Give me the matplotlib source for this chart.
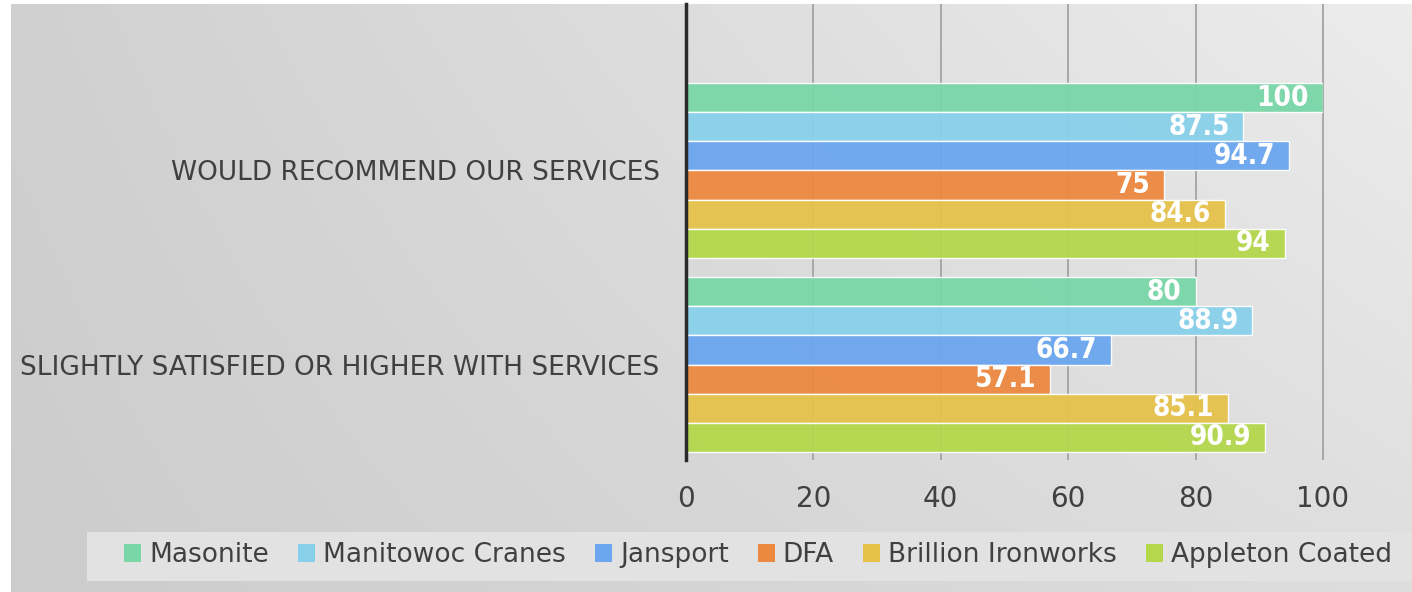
import matplotlib.pyplot as plt
import numpy as np
from matplotlib.patches import Rectangle, Patch

CATEGORIES = ["SLIGHTLY SATISFIED OR HIGHER WITH SERVICES", "WOULD RECOMMEND OUR SERVICES"]
COMPANIES = ["Masonite", "Manitowoc Cranes", "Jansport", "DFA", "Brillion Ironworks", "Appleton Coated"]

# values per company: [slightly satisfied, would recommend]
masonite = [80, 100]
manitowoc = [88.9, 87.5]
jansport = [66.7, 94.7]
dfa = [57.1, 75]
brillion = [85.1, 84.6]
appleton = [90.9, 94]
SERIES = [masonite, manitowoc, jansport, dfa, brillion, appleton]

COLORS = ["#79d7a7", "#88d0ea", "#6ba6ef", "#ec8940", "#e6c24b", "#b4d74b"]
X_TICKS = [0, 20, 40, 60, 80, 100]

W, H = 1412, 592
fig = plt.figure(figsize=(W / 100, H / 100), dpi=100)
fig.patch.set_facecolor("white")

# gradient background
bg = fig.add_axes([11 / W, 0, 1 - 11 / W, 588 / H])
gx = np.linspace(0, 1, 300)
gy = np.linspace(0, 1, 150)
XX, YY = np.meshgrid(gx, gy)
shade = 0.80 + 0.07 * XX + 0.04 * YY * (0.4 + XX)
bg.imshow(np.dstack([shade] * 3), extent=[0, 1, 0, 1], origin="lower", aspect="auto")
bg.set_axis_off()

# legend band
fig.add_artist(Rectangle((87 / W, 11 / H), 1 - 87 / W, 49 / H, transform=fig.transFigure,
                         facecolor="#e2e2e2", edgecolor="none", zorder=1))

ax = fig.add_axes([686 / W, 132 / H, 637 / W, 456 / H])
ax.set_facecolor("none")

bar_h = 0.15
y = np.arange(len(CATEGORIES))
for i, (vals, col) in enumerate(zip(SERIES, COLORS)):
    pos = y + (2.5 - i) * bar_h
    ax.barh(pos, vals, height=bar_h, color=col, edgecolor=(1, 1, 1, 0.7),
            linewidth=1.0, alpha=0.95, zorder=3)
    for p, v in zip(pos, vals):
        ax.annotate(f"{v:g}", (v, p), xytext=(-10, 0), textcoords="offset points",
                    ha="right", va="center", color="white", fontsize=20, fontweight="bold",
                    family="DejaVu Sans", fontstretch="condensed", zorder=4)

ax.set_xlim(0, 100)
ax.set_ylim(-0.492, 1.858)
ax.vlines(X_TICKS[1:], -0.492, 1.858, colors="#a3a3a3", linewidth=1.3, zorder=1, clip_on=False)

for s in ["top", "right", "bottom"]:
    ax.spines[s].set_visible(False)
ax.spines["left"].set_color("#2a2a2a")
ax.spines["left"].set_linewidth(2.5)
ax.spines["left"].set_zorder(5)

ax.set_xticks(X_TICKS)
ax.set_xticklabels([str(t) for t in X_TICKS])
ax.set_yticks(y)
ax.set_yticklabels(CATEGORIES)
ax.tick_params(axis="x", length=0, pad=18, labelsize=20, labelcolor="#404040")
ax.tick_params(axis="y", length=0, pad=19, labelsize=19, labelcolor="#404040")

handles = [Patch(facecolor=c, edgecolor="none") for c in COLORS]
leg = fig.legend(handles, COMPANIES, loc="center", bbox_to_anchor=(758 / W, 1 - 555 / H),
                 ncol=6, frameon=False, fontsize=19, handlelength=0.65, handleheight=0.65,
                 handletextpad=0.3, columnspacing=1.1)
for t in leg.get_texts():
    t.set_color("#404040")

fig.savefig("out.png", dpi=100)
